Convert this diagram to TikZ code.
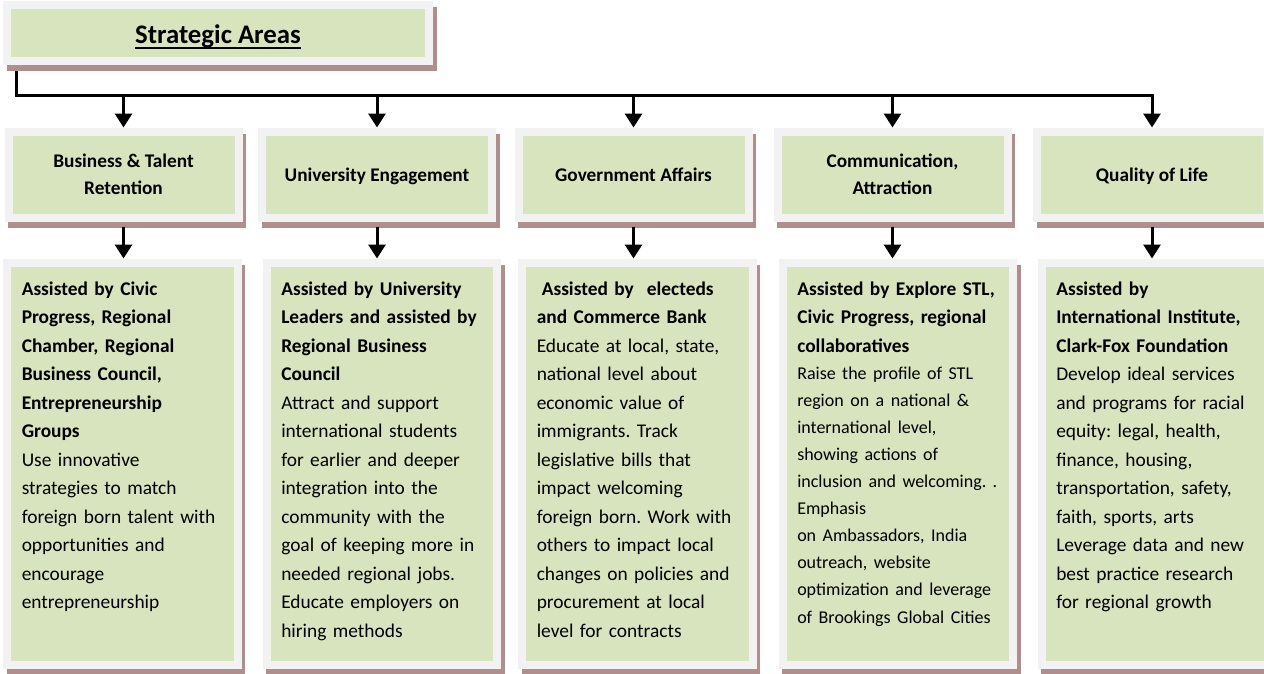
\documentclass[tikz,border=0pt]{standalone}
\usepackage{fontspec}
\setmainfont{Carlito}
\usetikzlibrary{positioning,arrows.meta}

\definecolor{boxgreen}{RGB}{215,228,189}
\definecolor{boxrim}{RGB}{242,242,242}
\definecolor{boxshade}{RGB}{176,142,142}

\newcommand\undl[1]{\setbox0\hbox{#1}\rlap{\rule[-5.5pt]{\wd0}{2pt}}\box0}
\frenchspacing

\begin{document}
\begin{tikzpicture}[x=1pt,y=-1pt,
	shaded/.style={fill=boxgreen, draw=boxrim, line width=8pt, outer sep=4pt,
		preaction={draw=boxshade, fill=boxshade, line width=8pt, transform canvas={shift={(3.5pt,-6pt)}}}},
	sabox/.style={shaded, minimum width=422pt, minimum height=56pt, inner sep=0pt, text height=21pt, text depth=0pt, font=\bfseries\fontsize{26.8}{30}\selectfont},
	areabox/.style={shaded, minimum width=230pt, minimum height=86pt, inner sep=0pt, align=center, font=\bfseries\fontsize{19.3}{27}\selectfont},
	oneline/.style={areabox, text depth=0pt},
	taskbox/.style={shaded, text width=201.5pt, inner xsep=14.5pt, inner ysep=0pt, align=left, text height=32.5pt, text depth=370pt,
		font=\fontsize{19.4}{28.5}\selectfont, execute at begin node={\rightskip=-20pt plus 1fil\relax}},
	link/.style={line width=3pt, -{Triangle[width=17pt,length=14pt]}}
	]
	\useasboundingbox (0,0) rectangle (1264,673);

	\node[sabox] (sa) at (218,33) {\undl{Strategic Areas}};

	\node[areabox] (br) at (123.5,174.5) {Business \& Talent\\Retention};
	\node[oneline, right=15.5pt of br] (ue) {University Engagement};
	\node[oneline, right=18.5pt of ue] (ga) {Government Affairs};
	\node[areabox, right=21pt of ga] (ca) {Communication,\\Attraction};
	\node[oneline, right=21.5pt of ca] (ql) {Quality of Life};

	\node[taskbox, below=37pt of br, xshift=-1pt] (tbr) {\textbf{Assisted by Civic}\\
		\textbf{Progress, Regional}\\
		\textbf{Chamber, Regional}\\
		\textbf{Business Council,}\\
		\textbf{Entrepreneurship}\\
		\textbf{Groups}\\
		Use innovative\\
		strategies to match\\
		foreign born talent with\\
		opportunities and\\
		encourage\\
		entrepreneurship};
	\node[taskbox, below=37pt of ue, xshift=5pt] (tue) {\textbf{Assisted by University}\\
		\textbf{Leaders and assisted by}\\
		\textbf{Regional Business}\\
		\textbf{Council}\\
		Attract and support\\
		international students\\
		for earlier and deeper\\
		integration into the\\
		community with the\\
		goal of keeping more in\\
		needed regional jobs.\\
		Educate employers on\\
		hiring methods};
	\node[taskbox, below=37pt of ga, xshift=4pt] (tga) {\hspace*{5pt}\textbf{Assisted by\ \ electeds}\\
		\textbf{and Commerce Bank}\\
		Educate at local, state,\\
		national level about\\
		economic value of\\
		immigrants. Track\\
		legislative bills that\\
		impact welcoming\\
		foreign born. Work with\\
		others to impact local\\
		changes on policies and\\
		procurement at local\\
		level for contracts};
	\node[taskbox, below=37pt of ca, xshift=5.5pt] (tca) {\textbf{Assisted by Explore STL,}\\
		\textbf{Civic Progress, regional}\\
		\textbf{collaboratives}\\
		\fontsize{18}{27}\selectfont Raise the profile of STL\\
		region on a national \&\\
		international level,\\
		showing actions of\\
		inclusion and welcoming. .\\
		Emphasis\\
		on Ambassadors, India\\
		outreach, website\\
		optimization and leverage\\
		of Brookings Global Cities};
	\node[taskbox, below=37pt of ql, xshift=5pt] (tql) {\textbf{Assisted by}\\
		\textbf{International Institute,}\\
		\textbf{Clark-Fox Foundation}\\
		Develop ideal services\\
		and programs for racial\\
		equity: legal, health,\\
		finance, housing,\\
		transportation, safety,\\
		faith, sports, arts\\
		Leverage data and new\\
		best practice research\\
		for regional growth};

	% bus from the top box
	\coordinate[below=6pt of sa.south west, xshift=13.5pt] (stem);
	\coordinate[below=24pt of stem] (bus);
	\draw[link] (stem) -- (bus) -| (ql);
	\foreach \n in {br,ue,ga,ca}
		\draw[link] (bus -| \n) -- (\n);

	\foreach \a/\b in {br/tbr,ue/tue,ga/tga,ca/tca,ql/tql}
		\draw[link] ([yshift=-5pt]\a.south) -- (\a.south |- \b.north);
\end{tikzpicture}
\end{document}
